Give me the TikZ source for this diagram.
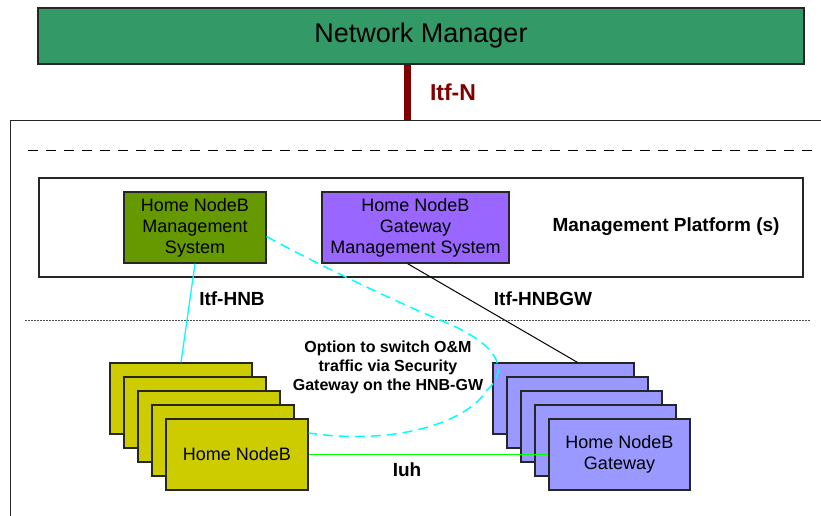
\documentclass[tikz,border=0pt]{standalone}
\usepackage{fontspec}
\setmainfont{Liberation Sans}
\definecolor{nmgreen}{HTML}{339966}
\definecolor{msgreen}{HTML}{669900}
\definecolor{mspurple}{HTML}{9966FF}
\definecolor{hnbyellow}{HTML}{CCCC00}
\definecolor{gwblue}{HTML}{9999FF}
\definecolor{itfred}{HTML}{800000}
\definecolor{itfcyan}{HTML}{00FFFF}
\definecolor{iuhgreen}{HTML}{00FF00}
\begin{document}
\begin{tikzpicture}[x=1pt,y=-1pt,
        box/.style={draw=black!85,line width=1.2pt,inner sep=0pt,align=center,font=\fontsize{18}{21}\selectfont},
        frame/.style={draw=black!85,line width=1.2pt,inner sep=0pt},
        lbl/.style={font=\fontsize{19}{22}\selectfont\bfseries}]
        \useasboundingbox (0,0) rectangle (821,515);
        \clip (0,0) rectangle (821,515);
        \node[box,fill=nmgreen,minimum width=766pt,minimum height=56pt,font=\fontsize{27}{31}\selectfont] (nm) at (421,36) {Network Manager};
        \node[frame,minimum width=840pt,minimum height=420pt,anchor=north west] (dom) at (10,120) {};
        \coordinate (ix) at (407,0);
        \draw[line width=7pt,itfred] (nm.south -| ix) -- (dom.north -| ix);
        \node[lbl,text=itfred,font=\fontsize{23}{26}\selectfont\bfseries] (itfn) at (453,92) {Itf-N};
        \draw[line width=1pt,dash pattern=on 10pt off 8pt] (28,150) -- (815,150);
        \node[frame,minimum width=764pt,minimum height=99pt] (mp) at (421,227.5) {};
        \node[box,fill=msgreen,minimum width=142pt,minimum height=71pt] (hnbms) at (195,227.5) {Home NodeB\\Management\\System};
        \node[box,fill=mspurple,minimum width=187pt,minimum height=71pt] (gwms) at (415.5,227.5) {Home NodeB\\Gateway\\Management System};
        \node[lbl] (mplbl) at (666,227) {Management Platform (s)};
        \node[lbl] (itfhnb) at (232,299) {Itf-HNB};
        \node[lbl] (itfgw) at (543,299) {Itf-HNBGW};
        \draw[line width=1pt,black!70,dash pattern=on 1.5pt off 1.5pt] (25,320) -- (810,320);
        \foreach \i in {4,3,2,1}{
            \node[box,fill=hnbyellow,minimum width=142pt,minimum height=71pt] (hnb\i) at ({237-14*\i},{454.5-14*\i}) {};
            \node[box,fill=gwblue,minimum width=141pt,minimum height=71pt] (gw\i) at ({619.5-14*\i},{454.5-14*\i}) {};
        }
        \node[box,fill=hnbyellow,minimum width=142pt,minimum height=71pt] (hnb0) at (237,454.5) {Home NodeB};
        \node[box,fill=gwblue,minimum width=141pt,minimum height=71pt] (gw0) at (619.5,454.5) {Home NodeB\\Gateway};
        \draw[itfcyan,line width=1.3pt] (hnbms.south) -- (hnb4.north);
        \draw[line width=1pt] ([xshift=-8pt]gwms.south) -- ([xshift=14pt]gw4.north);
        \draw[iuhgreen,line width=1.3pt] (hnb0.east) -- (gw0.west);
        \draw[itfcyan,line width=1.5pt,dash pattern=on 10pt off 6pt] ([yshift=-9pt]hnbms.east) .. controls (300,255) and (380,295) .. (440,320)
            .. controls (495,342) and (512,368) .. (487,390)
            .. controls (465,425) and (390,445) .. ([yshift=21.5pt]hnb0.east);
        \node[font=\fontsize{16}{19}\selectfont\bfseries,align=center] (opt) at (388,367) {Option to switch O\&M\\traffic via Security\\Gateway on the HNB-GW};
        \node[lbl] (iuh) at (407,470) {Iuh};
    \end{tikzpicture}
\end{document}
